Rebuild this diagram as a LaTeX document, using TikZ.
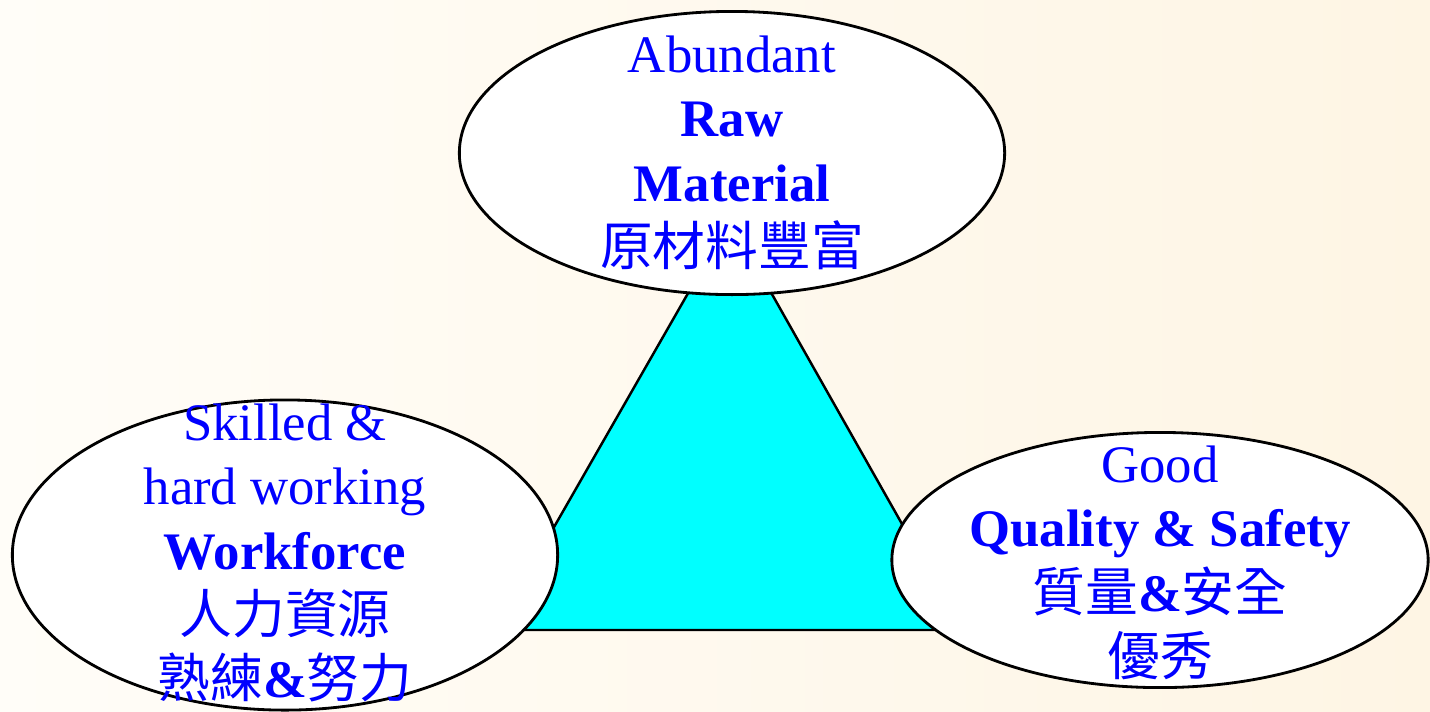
\documentclass[tikz,border=0pt]{standalone}
\usepackage{fontspec}
\setmainfont{Liberation Serif}
\newfontfamily\cjk{Noto Sans CJK TC}
\usetikzlibrary{shapes.geometric}
\definecolor{txtblue}{RGB}{0,0,255}
\definecolor{aqua}{RGB}{0,255,255}
\definecolor{paperL}{RGB}{255,253,248}
\definecolor{paperR}{RGB}{254,245,228}

\begin{document}
\begin{tikzpicture}[x=0.01cm,y=-0.01cm,
  blob/.style={ellipse,draw,line width=0.8pt,fill=white,inner sep=0pt},
  lbl/.style={align=center,text=txtblue,font=\fontsize{15}{18.3}\selectfont}]
  \shade[left color=paperL,right color=paperR] (0,0) rectangle (1430,711);
  \useasboundingbox (0,0) rectangle (1430,711);
  % the triangle behind
  \coordinate (apex) at (730,220);
  \coordinate (bl) at (495,630);
  \coordinate (br) at (962,630);
  \draw[fill=aqua,line width=0.7pt] (apex) -- (bl) -- (br) -- cycle;
  % the three corners
  \node[blob,minimum width=5.45cm,minimum height=2.83cm] (raw) at (732,153) {};
  \node[blob,minimum width=5.45cm,minimum height=3.10cm] (work) at (285,555) {};
  \node[blob,minimum width=5.36cm,minimum height=2.55cm] (safe) at (1160,560) {};
  \node[lbl] (rawtxt) at (raw) {Abundant\\\textbf{Raw}\\\textbf{Material}\\{\cjk 原材料豐富}};
  \node[lbl] (worktxt) at ([yshift=0.02cm]work) {Skilled \&\\hard working\\\textbf{Workforce}\\{\cjk 人力資源}\\{\cjk 熟練}\textbf{\&}{\cjk 努力}};
  \node[lbl] (safetxt) at ([yshift=-0.03cm]safe) {Good\\\textbf{Quality \& Safety}\\{\cjk 質量}\textbf{\&}{\cjk 安全}\\{\cjk 優秀}};
\end{tikzpicture}
\end{document}
